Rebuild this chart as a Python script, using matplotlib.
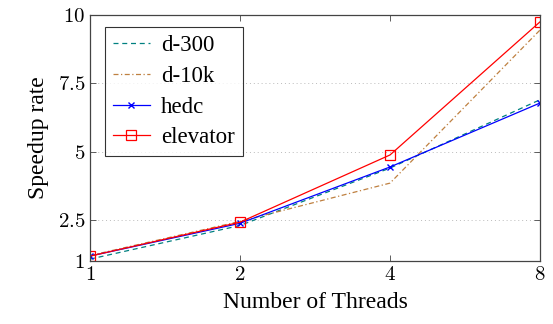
import matplotlib
matplotlib.use('Agg')
import matplotlib.pyplot as plt

threads = [1, 2, 4, 8]
d300 = [1.07, 2.3, 4.4, 6.9]
d10k = [1.2, 2.45, 3.85, 9.45]
hedc = [1.18, 2.38, 4.44, 6.78]
elevator = [1.18, 2.42, 4.88, 9.75]

yticks = [1, 2.5, 5, 7.5, 10]
ytick_labels = ['1', '2.5', '5', '7.5', '10']

plt.rcParams['font.family'] = ['Liberation Serif', 'DejaVu Serif']
plt.rcParams['mathtext.fontset'] = 'cm'

fig = plt.figure(figsize=(5.53, 3.24), dpi=100)
ax = fig.add_axes([0.1628, 0.1944, 0.8137, 0.7593])

ax.plot(threads, d300, color='teal', linestyle=(0, (4, 3)), linewidth=0.9, label='d-300')
ax.plot(threads, d10k, color='#bf8040', linestyle=(0, (4, 2, 1, 2)), linewidth=0.9, label='d-10k')
ax.plot(threads, hedc, color='blue', marker='x', markersize=5, linewidth=0.9, label='hedc')
ax.plot(threads, elevator, color='red', marker='s', markersize=7, markerfacecolor='none',
        markeredgewidth=0.9, linewidth=0.9, label='elevator')

ax.set_xscale('log', base=2)
ax.set_xlim(1, 8)
ax.set_ylim(1, 10)
ax.set_xticks(threads)
ax.set_xticklabels(['$%d$' % t for t in threads])
ax.minorticks_off()
ax.set_yticks(yticks)
ax.set_yticklabels(['$%s$' % s for s in ytick_labels])
ax.tick_params(direction='in', top=True, right=True, labelsize=15, length=4, width=0.6, colors='#444444',
               labelcolor='black')
ax.grid(axis='y', linestyle=(0, (1, 3)), color='#bbbbbb', linewidth=0.7)
for s in ax.spines.values():
    s.set_color('#444444')
    s.set_linewidth(0.9)

ax.set_xlabel('Number of Threads', fontsize=17, labelpad=5)
ax.set_ylabel('Speedup rate', fontsize=17, labelpad=6)

leg = ax.legend(loc='upper left', fontsize=16.5, fancybox=False, edgecolor='black',
                handlelength=1.6, borderpad=0.35, labelspacing=0.42, handletextpad=0.5,
                borderaxespad=0, bbox_to_anchor=(0.033, 0.95))
leg.get_frame().set_linewidth(0.8)

fig.savefig('out.png', dpi=100)
